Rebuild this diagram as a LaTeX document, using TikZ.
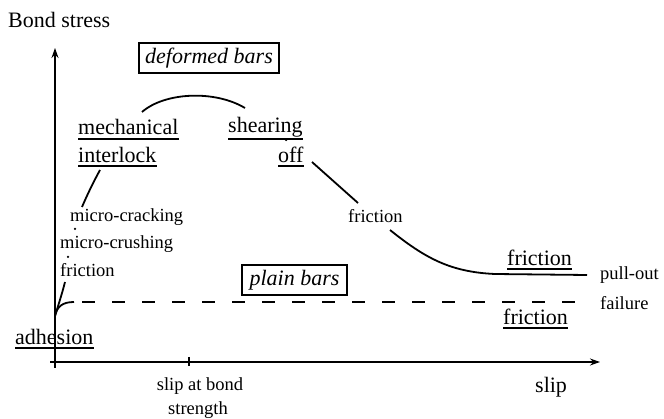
\documentclass[tikz,border=0pt]{standalone}
\usepackage{fontspec}
\setmainfont{Liberation Serif}
\usetikzlibrary{arrows.meta}
\begin{document}
\begin{tikzpicture}[x=1pt,y=-1pt,
  big/.style={font=\fontsize{22}{24}\selectfont, inner sep=0pt},
  small/.style={font=\fontsize{18.5}{20}\selectfont, inner sep=0pt},
  boxlabel/.style={draw, line width=1.1pt, font=\fontsize{22}{24}\selectfont\itshape, inner sep=0pt},
  axis/.style={line width=1.1pt, -{Stealth[length=10pt,width=7pt]}},
  tick/.style={line width=1.1pt},
  curve/.style={line width=1.8pt},
  ulline/.style={line width=1.1pt},
  dot/.style={circle, fill, inner sep=0pt, minimum size=2.5pt}]
\useasboundingbox (0,0) rectangle (664,419);

% axes
\coordinate (ybot) at (55,368);
\coordinate (ytop) at (55,48);
\coordinate (xbeg) at (50,362);
\coordinate (xend) at (600,362);
\draw[axis] (ybot) -- (ytop);
\draw[axis] (xbeg) -- (xend);
\coordinate (t1a) at (55,357); \coordinate (t1b) at (55,368);
\coordinate (t2a) at (189,357); \coordinate (t2b) at (189,366);
\draw[tick] (t2a) -- (t2b);

% labels
\node[big, anchor=base west] (bond) at (8,28) {Bond stress};
\node[boxlabel, minimum width=140pt, minimum height=30pt] (def) at (209,58) {deformed bars};
\node[boxlabel, minimum width=105pt, minimum height=30pt] (plain) at (294.5,280) {plain bars};

\node[big, anchor=base west] (mech) at (78,135) {mechanical};
\node[big, anchor=base west] (inter) at (78,163) {interlock};
\node[big, anchor=base west] (shear) at (228,133) {shearing};
\node[big, anchor=base west] (off) at (278,163) {off};
\node[big, anchor=base west] (adh) at (15,345) {adhesion};
\node[big, anchor=base west] (fricA) at (507,266) {friction};
\node[big, anchor=base west] (fricB) at (503,325) {friction};
\node[big, anchor=base west] (slip) at (535,393) {slip};

\node[small, anchor=base west] (mcrack) at (70,222) {micro-cracking};
\node[small, anchor=base west] (mcrush) at (60,249) {micro-crushing};
\node[small, anchor=base west] (fricS) at (60,277) {friction};
\node[small, anchor=base west] (fricM) at (348,223) {friction};
\node[small, anchor=base west] (pull) at (600,280) {pull-out};
\node[small, anchor=base west] (fail) at (600,310) {failure};
\node[small, anchor=base] (sab) at (200,391) {slip at bond};
\node[small, anchor=base] (str) at (198,414) {strength};

% underlines
\foreach \n/\d in {mech/4, inter/3, shear/6, off/3, adh/3, fricA/3, fricB/3}
  \draw[ulline] ([yshift=-\d pt]\n.base west) -- ([yshift=-\d pt]\n.base east);

% deformed bars curve
\coordinate (d0) at (55,316);
\coordinate (d1) at (65,282);
\coordinate (d2a) at (82,207);
\coordinate (d2b) at (100,170);
\coordinate (d3a) at (142,112);
\coordinate (d3b) at (245,108);
\coordinate (d4a) at (312,162);
\coordinate (d4b) at (358,203);
\coordinate (d5a) at (390,230);
\coordinate (d5b) at (495,274);
\coordinate (d5c) at (587,275);
\draw[curve] (d0) .. controls (58,306) and (62,294) .. (d1);
\draw[curve] (d2a) .. controls (88,193) and (94,181) .. (d2b);
\draw[curve] (d3a) .. controls (165,92) and (215,90) .. (d3b);
\draw[curve] (d4a) -- (d4b);
\draw[curve] (d5a) .. controls (425,258) and (450,272) .. (d5b) -- (d5c);
\node[dot] (p1) at (68,257) {};
\node[dot] (p2) at (75,229) {};
\node[dot] (p3) at (286,140) {};

% plain bars curve
\coordinate (q1) at (74,302);
\coordinate (q2) at (587,302);
\draw[curve] (d0) .. controls (57,307) and (62,302) .. (q1);
\draw[curve, dash pattern=on 13pt off 17pt, dash phase=-8pt] (q1) -- (q2);
\end{tikzpicture}
\end{document}
